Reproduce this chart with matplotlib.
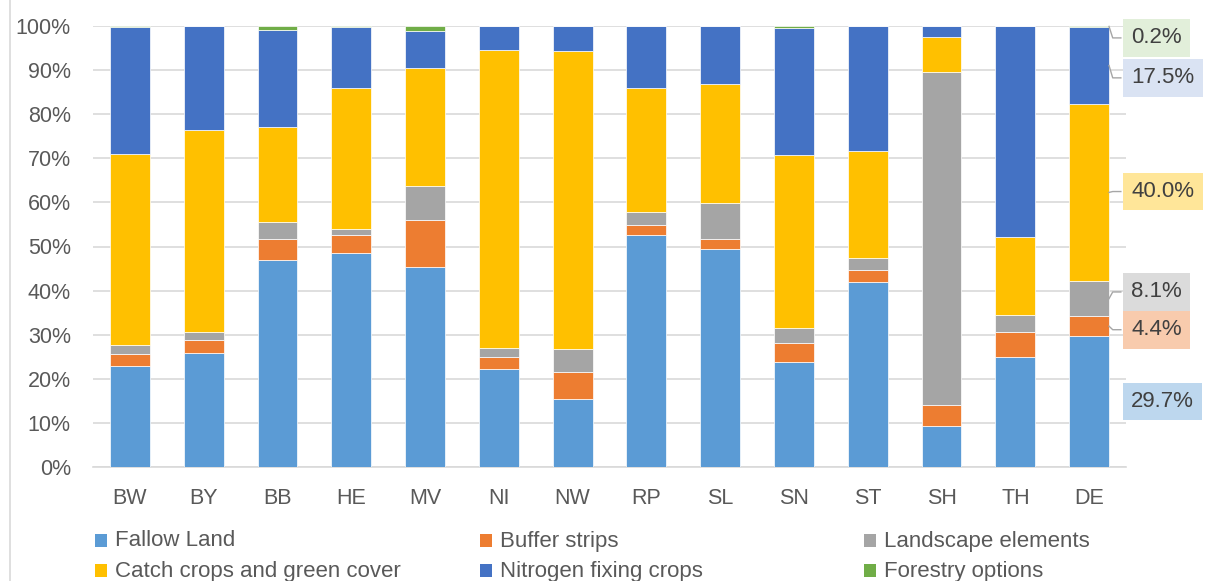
import numpy as np
import matplotlib
matplotlib.use("Agg")
import matplotlib.pyplot as plt
from matplotlib.patches import Rectangle
from matplotlib.lines import Line2D

plt.rcParams['font.family'] = ['Liberation Sans', 'DejaVu Sans']

categories = ["BW", "BY", "BB", "HE", "MV", "NI", "NW", "RP", "SL", "SN", "ST", "SH", "TH", "DE"]
series_names = ["Fallow Land", "Buffer strips", "Landscape elements",
                "Catch crops and green cover", "Nitrogen fixing crops", "Forestry options"]
fallow    = [22.9, 25.8, 46.9, 48.5, 45.3, 22.3, 15.4, 52.7, 49.4, 23.8, 42.0, 9.3, 24.9, 29.7]
buffer    = [2.7, 2.9, 4.9, 4.0, 10.8, 2.6, 6.1, 2.2, 2.4, 4.4, 2.7, 4.7, 5.8, 4.4]
landscape = [2.1, 1.8, 3.8, 1.4, 7.7, 2.0, 5.3, 3.0, 8.1, 3.4, 2.8, 75.6, 3.8, 8.1]
catch     = [43.3, 45.9, 21.4, 32.1, 26.6, 67.7, 67.5, 28.0, 26.9, 39.1, 24.2, 7.8, 17.7, 40.0]
nitrogen  = [28.8, 23.5, 22.2, 13.8, 8.5, 5.3, 5.6, 14.0, 13.1, 28.8, 28.2, 2.5, 47.7, 17.5]
forestry  = [0.2, 0.1, 0.8, 0.2, 1.1, 0.1, 0.1, 0.1, 0.1, 0.5, 0.1, 0.1, 0.1, 0.2]
yticks = [0, 10, 20, 30, 40, 50, 60, 70, 80, 90, 100]
ytick_labels = ["0%", "10%", "20%", "30%", "40%", "50%", "60%", "70%", "80%", "90%", "100%"]

colors = ["#5b9bd5", "#ed7d31", "#a5a5a5", "#ffc000", "#4472c4", "#70ad47"]
label_bg = ["#bdd7ee", "#f8cbad", "#dbdbdb", "#ffe699", "#dae3f3", "#e2efda"]
label_dy = [0.0, -0.8, 1.5, 0.2, -2.8, -2.6]

data = np.array([fallow, buffer, landscape, catch, nitrogen, forestry])
totals = data.sum(axis=0)
pct = data / totals * 100

W, H = 1215, 581
fig = plt.figure(figsize=(W / 100, H / 100), dpi=100)
ax = fig.add_axes([93 / W, 1 - 467 / H, (1126 - 93) / W, (467 - 26) / H])

x = np.arange(len(categories))
bw = 0.54
bottom = np.zeros(len(categories))
for i, name in enumerate(series_names):
    ax.bar(x, pct[i], bw, bottom=bottom, color=colors[i], edgecolor="#ffffff",
           linewidth=0.5, zorder=3, label=name)
    bottom += pct[i]

ax.set_xlim(-0.5, len(categories) - 0.5)
ax.set_ylim(0, 100)
ax.set_yticks(yticks)
ax.set_yticklabels(ytick_labels)
ax.set_xticks(x)
ax.set_xticklabels(categories)
ax.yaxis.grid(True, color="#d9d9d9", linewidth=1.2, zorder=0)
ax.set_axisbelow(True)
for s in ["top", "right", "left"]:
    ax.spines[s].set_visible(False)
ax.spines["bottom"].set_color("#d9d9d9")
ax.spines["bottom"].set_linewidth(1.2)
ax.tick_params(axis="both", length=0, labelsize=15.5, labelcolor="#595959")
ax.tick_params(axis="y", pad=16)
ax.tick_params(axis="x", pad=15)

# data labels for the last column (DE)
j = len(categories) - 1
xr = x[j] + bw / 2
xbox = 13.57
cum = np.concatenate([[0], np.cumsum(pct[:, j])])
for i in range(len(series_names)):
    yc = (cum[i] + cum[i + 1]) / 2
    yl = yc + label_dy[i]
    ax.text(xbox, yl, f"{data[i, j]:.1f}%", fontsize=16, color="#404040",
            ha="left", va="center", clip_on=False, zorder=5,
            bbox=dict(boxstyle="square,pad=0.38", facecolor=label_bg[i], edgecolor="none"))
    if i != 0:
        ax.plot([xr, xr + 0.05, xbox - 0.14], [yc, yl, yl], color="#a6a6a6",
                linewidth=1, clip_on=False, zorder=4)

# legend (row-wise, 3 columns)
col_x = [95, 480, 864]
row_y = [541, 571]
for i, name in enumerate(series_names):
    cx = col_x[i % 3]
    cy = row_y[i // 3]
    fig.add_artist(Rectangle((cx / W, 1 - (cy + 6) / H), 12 / W, 13 / H,
                             transform=fig.transFigure, facecolor=colors[i], edgecolor="none"))
    fig.text((cx + 20) / W, 1 - cy / H, name, fontsize=16, color="#595959",
             ha="left", va="center")

fig.add_artist(Line2D([10.5 / W, 10.5 / W], [0, 1], color="#d9d9d9", linewidth=1.2,
                      transform=fig.transFigure))

fig.savefig("out.png", dpi=100)
